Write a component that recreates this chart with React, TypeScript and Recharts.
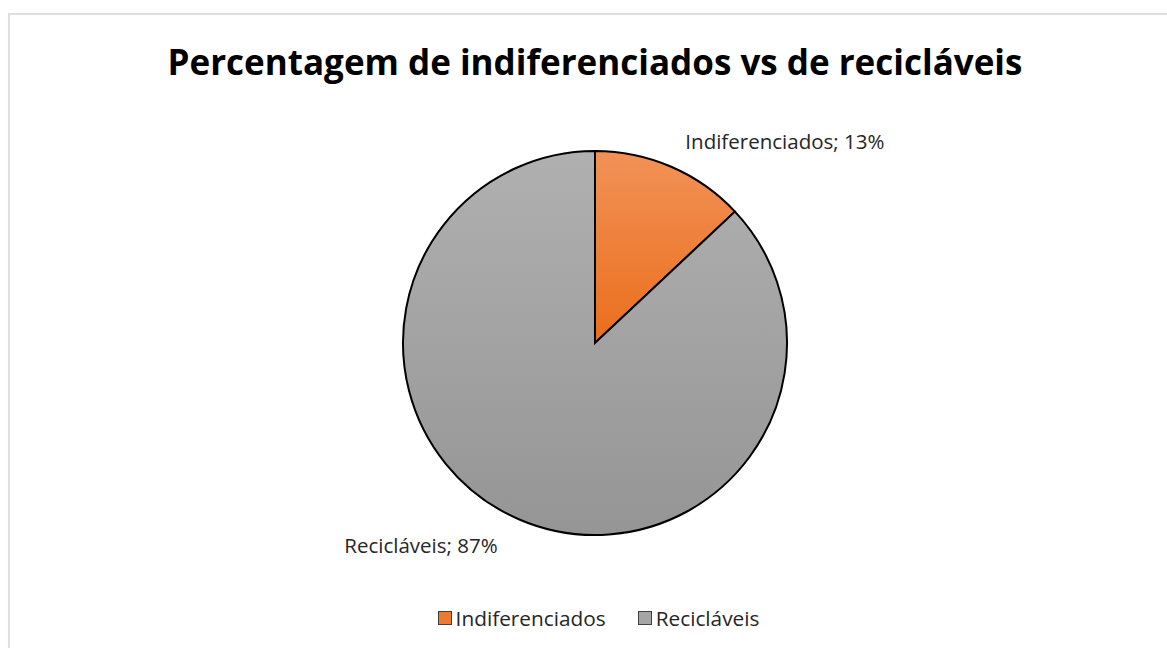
import { PieChart, Pie, Cell, Legend } from "recharts";

const categories = ["Indiferenciados", "Recicláveis"];
const percentages = [13, 87];
const title = "Percentagem de indiferenciados vs de recicláveis";

const data = categories.map((name, i) => ({ name, value: percentages[i] }));

const fills = ["url(#gradOrange)", "url(#gradGray)"];
const swatch = ["#EE7A2C", "#A5A5A5"];
const FONT = "'Open Sans', 'Noto Sans', sans-serif";

const RAD = Math.PI / 180;

const renderLabel = (props: any) => {
  const { cx, cy, midAngle, outerRadius, name, value } = props;
  const cos = Math.cos(-midAngle * RAD);
  const sin = Math.sin(-midAngle * RAD);
  const r = outerRadius + 28;
  const x = cx + r * cos + (cos < 0 ? -10 : 3);
  const y = cy + r * sin;
  return (
    <text
      x={x}
      y={y}
      textAnchor={cos < 0 ? "end" : "start"}
      dominantBaseline="central"
      fill="#262626"
      fontSize={20.5}
      fontFamily={FONT}
    >
      {`${name}; ${value}%`}
    </text>
  );
};

const renderLegend = (props: any) => {
  const { payload } = props;
  return (
    <div style={{ display: "flex", justifyContent: "center", gap: 32, fontFamily: FONT, fontSize: 20.8, color: "#262626", paddingLeft: 30 }}>
      {payload.map((p: any, i: number) => (
        <div key={p.value} style={{ display: "flex", alignItems: "center" }}>
          <span
            style={{
              display: "inline-block",
              width: 12,
              height: 12,
              background: swatch[i],
              border: "1.5px solid #404040",
              marginRight: 4,
            }}
          />
          <span>{p.value}</span>
        </div>
      ))}
    </div>
  );
};

export default function App() {
  return (
    <div style={{ position: "absolute", left: 0, top: 0, width: 1167, height: 648, background: "#fff", overflow: "hidden" }}>
      <div
        style={{
          position: "absolute",
          left: 8,
          top: 13,
          width: 1200,
          height: 700,
          borderLeft: "2px solid #DCE0E6",
          borderTop: "2px solid #DCE0E6",
        }}
      />
      <div
        style={{
          position: "absolute",
          left: 0,
          top: 38,
          width: 1190,
          textAlign: "center",
          fontFamily: FONT,
          fontWeight: 700,
          fontSize: 35,
          color: "#000",
          lineHeight: "48px",
        }}
      >
        {title}
      </div>
      <div style={{ position: "absolute", left: 0, top: 0 }}>
        <PieChart width={1167} height={648} margin={{ top: 0, right: 0, bottom: 0, left: 0 }}>
          <defs>
            <linearGradient id="gradOrange" x1="0" y1="0" x2="0" y2="1">
              <stop offset="0%" stopColor="#F29257" />
              <stop offset="100%" stopColor="#EA6E1C" />
            </linearGradient>
            <linearGradient id="gradGray" x1="0" y1="0" x2="0" y2="1">
              <stop offset="0%" stopColor="#B0B0B0" />
              <stop offset="100%" stopColor="#959595" />
            </linearGradient>
          </defs>
          <Pie
            data={data}
            dataKey="value"
            nameKey="name"
            cx={595}
            cy={343}
            outerRadius={192}
            startAngle={90}
            endAngle={-270}
            stroke="#000"
            strokeWidth={2}
            label={renderLabel}
            labelLine={false}
            isAnimationActive={false}
          >
            {data.map((d, i) => (
              <Cell key={d.name} fill={fills[i]} />
            ))}
          </Pie>
          <Legend
            content={renderLegend}
            layout="horizontal"
            verticalAlign="bottom"
            wrapperStyle={{ left: 0, width: 1167, bottom: 16 }}
          />
        </PieChart>
      </div>
    </div>
  );
}
